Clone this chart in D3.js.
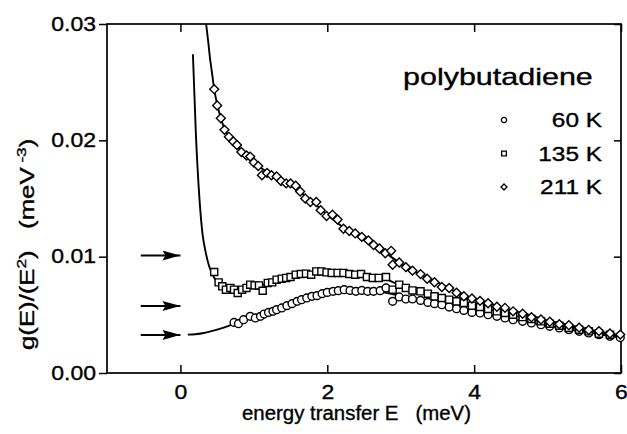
<!DOCTYPE html>
<html>
<head>
<meta charset="utf-8">
<script src="https://cdn.jsdelivr.net/npm/d3@7"></script>
<style>
body { margin: 0; background: #fff; }
text { font-family: "Liberation Sans", Arial, Helvetica, sans-serif; fill: #000; stroke: #000; stroke-width: 0.35px; }
</style>
</head>
<body>
<svg id="chart"></svg>
<script>
// measured points, energy E (meV) and g(E)/E^2 (meV^-3)
var e60 = [0.73,0.79,0.86,0.95,1.02,1.09,1.14,1.20,1.26,1.31,1.38,1.45,1.52,1.59,1.65,1.72,1.79,1.86,1.93,2.00,2.08,2.15,2.23,2.31,2.39,2.47,2.55,2.63,2.72,2.80,2.89,2.98,3.07,3.16,3.27,3.37,3.46,3.56,3.66,3.76,3.86,3.97,4.08,4.19,4.31,4.42,4.53,4.66,4.78,4.91,5.03,5.16,5.29,5.43,5.56,5.70,5.85,5.99];
var g60 = [0.00435,0.00424,0.00458,0.00487,0.00473,0.00487,0.00507,0.00521,0.00530,0.00544,0.00559,0.00579,0.00596,0.00616,0.00630,0.00645,0.00659,0.00665,0.00682,0.00693,0.00702,0.00708,0.00716,0.00710,0.00702,0.00710,0.00702,0.00702,0.00708,0.00731,0.00616,0.00654,0.00636,0.00636,0.00624,0.00607,0.00596,0.00587,0.00567,0.00553,0.00538,0.00521,0.00516,0.00501,0.00487,0.00473,0.00458,0.00444,0.00430,0.00415,0.00401,0.00387,0.00372,0.00358,0.00344,0.00329,0.00315,0.00305];

var e135 = [0.46,0.52,0.57,0.62,0.68,0.73,0.78,0.84,0.90,0.95,1.01,1.07,1.12,1.19,1.25,1.31,1.38,1.44,1.50,1.57,1.64,1.71,1.78,1.85,1.92,1.99,2.06,2.14,2.22,2.30,2.38,2.46,2.54,2.62,2.70,2.80,2.89,2.98,3.07,3.16,3.27,3.37,3.46,3.56,3.66,3.76,3.86,3.97,4.08,4.19,4.31,4.42,4.53,4.66,4.78,4.91,5.03,5.16,5.29,5.43,5.56,5.70,5.85];
var g135 = [0.00868,0.00779,0.00745,0.00716,0.00731,0.00716,0.00688,0.00716,0.00731,0.00759,0.00753,0.00753,0.00707,0.00774,0.00779,0.00802,0.00811,0.00817,0.00825,0.00845,0.00851,0.00854,0.00845,0.00873,0.00873,0.00865,0.00860,0.00860,0.00860,0.00851,0.00845,0.00851,0.00825,0.00817,0.00817,0.00825,0.00716,0.00759,0.00731,0.00710,0.00702,0.00682,0.00659,0.00645,0.00630,0.00616,0.00602,0.00579,0.00567,0.00550,0.00530,0.00516,0.00501,0.00481,0.00464,0.00444,0.00424,0.00407,0.00387,0.00372,0.00358,0.00338,0.00329];

var e211 = [0.46,0.50,0.55,0.60,0.66,0.72,0.77,0.83,0.90,0.95,1.00,1.06,1.11,1.18,1.24,1.31,1.37,1.44,1.50,1.57,1.63,1.70,1.77,1.85,1.91,1.99,2.07,2.14,2.22,2.30,2.38,2.47,2.56,2.63,2.71,2.79,2.87,2.89,2.98,3.07,3.16,3.27,3.36,3.46,3.56,3.66,3.76,3.86,3.97,4.08,4.19,4.31,4.42,4.53,4.66,4.78,4.91,5.03,5.16,5.29,5.43,5.56,5.70,5.85,5.99];
var g211 = [0.0244,0.0230,0.0219,0.0209,0.0203,0.0199,0.0196,0.0190,0.0187,0.0186,0.0181,0.0178,0.0170,0.0172,0.0170,0.0169,0.0165,0.0163,0.0163,0.0161,0.0156,0.0150,0.0147,0.0147,0.0140,0.0135,0.0136,0.0132,0.0124,0.0122,0.0120,0.0117,0.0114,0.0110,0.0107,0.0103,0.0105,0.0093,0.0095,0.0091,0.0088,0.0085,0.0081,0.0078,0.0074,0.0073,0.0069,0.0066,0.0064,0.0062,0.0060,0.0057,0.0056,0.0053,0.0051,0.0048,0.0046,0.0044,0.0042,0.0041,0.0039,0.0037,0.0036,0.0034,0.0033];

// fitted curves
var fit60E = [0.10,0.20,0.30,0.40,0.50,0.60,0.70,0.80,0.90,1.10,1.30,1.50,1.70,1.90,2.10,2.30,2.50,2.70,2.90,3.10,3.30,3.50,3.75,4.00,4.25,4.50,4.75,5.00,5.25,5.50,5.75,6.00];
var fit60G = [0.00330,0.00333,0.00342,0.00356,0.00373,0.00393,0.00415,0.00437,0.00460,0.00497,0.00537,0.00585,0.00633,0.00670,0.00697,0.00708,0.00710,0.00700,0.00676,0.00645,0.00618,0.00592,0.00558,0.00525,0.00494,0.00464,0.00435,0.00406,0.00379,0.00353,0.00329,0.00305];

var fit135E = [0.17,0.21,0.26,0.30,0.34,0.39,0.45,0.52,0.60,0.75,0.90,1.20,1.50,1.80,2.10,2.40,2.70,2.90,3.10,3.50,4.00,4.50,5.00,5.50,6.00];
var fit135G = [0.0274,0.0206,0.0149,0.0120,0.0105,0.0092,0.0083,0.0077,0.0074,0.0072,0.0073,0.0077,0.0082,0.0086,0.0087,0.0086,0.0083,0.0078,0.0073,0.0066,0.0058,0.0050,0.0043,0.0037,0.0031];

var fit211E = [0.35,0.38,0.40,0.43,0.46,0.50,0.55,0.60,0.70,0.80,0.90,1.00,1.20,1.40,1.60,1.80,2.00,2.20,2.40,2.60,2.80,3.00,3.20,3.50,3.75,4.00,4.25,4.50,4.75,5.00,5.25,5.50,5.75,6.00];
var fit211G = [0.0300,0.0284,0.0272,0.0258,0.0244,0.0231,0.0219,0.0210,0.0200,0.0193,0.0187,0.0181,0.0172,0.0165,0.0157,0.0147,0.0136,0.0126,0.0118,0.0111,0.0103,0.0094,0.0087,0.0078,0.0070,0.0064,0.0059,0.0054,0.0050,0.0045,0.0042,0.0038,0.0035,0.0032];

// arrows on the left side
var arrowLevels = [0.0101, 0.00576, 0.00327];

var xTicks = [0, 2, 4, 6];
var yTicks = [0, 0.01, 0.02, 0.03];
var seriesNames = ["60 K", "135 K", "211 K"];

var width = 627, height = 434;

var svg = d3.select("#chart")
	.attr("width", width)
	.attr("height", height);

var x = d3.scaleLinear().domain([-1, 6]).range([107, 621]);
var y = d3.scaleLinear().domain([0, 0.03]).range([373, 24]);

// wide Helvetica look: stretch text along its reading direction
function stretch(sel, k) {
	sel.each(function() {
		var w = this.getComputedTextLength();
		this.setAttribute("textLength", w * k);
		this.setAttribute("lengthAdjust", "spacingAndGlyphs");
	});
}

// axes
var gLeft = svg.append("g")
	.attr("transform", "translate(107,0)")
	.call(d3.axisLeft(y).tickValues(yTicks).tickSize(8).tickSizeOuter(0).tickPadding(3).tickFormat(d3.format(".2f")));
var gBottom = svg.append("g")
	.attr("transform", "translate(0,373)")
	.call(d3.axisBottom(x).tickValues(xTicks).tickSizeInner(-8).tickSizeOuter(0).tickPadding(12).tickFormat(d3.format("d")));
svg.append("g")
	.attr("transform", "translate(0,24)")
	.call(d3.axisTop(x).tickValues(xTicks).tickSizeInner(-8).tickSizeOuter(0).tickFormat(""));
svg.append("g")
	.attr("transform", "translate(621,0)")
	.call(d3.axisRight(y).tickValues(yTicks).tickSizeInner(-7).tickSizeOuter(0).tickFormat(""));

svg.selectAll(".domain").remove();
svg.selectAll(".tick line").attr("stroke", "#000").attr("stroke-width", 1.5);
svg.selectAll(".tick text")
	.style("font-family", "'Liberation Sans', Arial, sans-serif")
	.style("font-size", "19.5px")
	.attr("fill", "#000");
stretch(gLeft.selectAll(".tick text"), 1.18);
stretch(gBottom.selectAll(".tick text"), 1.18);

// frame
svg.append("rect")
	.attr("x", x(-1))
	.attr("y", y(0.03))
	.attr("width", x(6) - x(-1))
	.attr("height", y(0) - y(0.03))
	.attr("fill", "none")
	.attr("stroke", "#000")
	.attr("stroke-width", 1.7);

// fitted lines
var line = d3.line()
	.x(function(d) { return x(d[0]); })
	.y(function(d) { return y(d[1]); })
	.curve(d3.curveMonotoneX);

var fits = [d3.zip(fit60E, fit60G), d3.zip(fit135E, fit135G), d3.zip(fit211E, fit211G)];

svg.append("g")
	.selectAll("path")
	.data(fits)
	.enter()
	.append("path")
	.attr("d", line)
	.attr("fill", "none")
	.attr("stroke", "#000")
	.attr("stroke-width", 1.9);

// markers
var circleSym = d3.symbol().type(d3.symbolCircle).size(48);
var squareSym = d3.symbol().type(d3.symbolSquare).size(50);
var diamondSym = d3.symbol().type(d3.symbolSquare).size(40);

function drawPoints(es, gs, sym, rot) {
	svg.append("g")
		.selectAll("path")
		.data(d3.zip(es, gs))
		.enter()
		.append("path")
		.attr("d", sym)
		.attr("transform", function(d) {
			return "translate(" + x(d[0]) + "," + y(d[1]) + ") rotate(" + rot + ")";
		})
		.attr("fill", "#fff")
		.attr("stroke", "#000")
		.attr("stroke-width", 1.4);
}

drawPoints(e60, g60, circleSym, 0);
drawPoints(e135, g135, squareSym, 0);
drawPoints(e211, g211, diamondSym, 45);

// arrows
svg.append("defs")
	.append("marker")
	.attr("id", "head")
	.attr("markerUnits", "userSpaceOnUse")
	.attr("markerWidth", 18)
	.attr("markerHeight", 10)
	.attr("refX", 18)
	.attr("refY", 5)
	.attr("orient", "auto")
	.append("path")
	.attr("d", "M0,0L18,5L0,10L3,5Z")
	.attr("fill", "#000");

svg.append("g")
	.selectAll("line")
	.data(arrowLevels)
	.enter()
	.append("line")
	.attr("x1", x(-0.54))
	.attr("x2", x(0))
	.attr("y1", function(d) { return y(d); })
	.attr("y2", function(d) { return y(d); })
	.attr("stroke", "#000")
	.attr("stroke-width", 2)
	.attr("marker-end", "url(#head)");

// legend
svg.append("text")
	.attr("x", 403)
	.attr("y", 85)
	.style("font-size", "24px")
	.text("polybutadiene")
	.call(stretch, 1.27);

var legendSyms = [
	d3.symbol().type(d3.symbolCircle).size(22),
	d3.symbol().type(d3.symbolSquare).size(22),
	d3.symbol().type(d3.symbolSquare).size(18)
];
var legendRot = [0, 0, 45];

var leg = svg.append("g")
	.selectAll("g")
	.data(seriesNames)
	.enter()
	.append("g")
	.attr("transform", function(d, i) { return "translate(0," + (120 + i * 33.5) + ")"; });

leg.append("path")
	.attr("d", function(d, i) { return legendSyms[i](); })
	.attr("transform", function(d, i) { return "translate(504,0) rotate(" + legendRot[i] + ")"; })
	.attr("fill", "#fff")
	.attr("stroke", "#000")
	.attr("stroke-width", 1.3);

leg.append("text")
	.attr("x", 602)
	.attr("y", 7)
	.attr("text-anchor", "end")
	.style("font-size", "19.5px")
	.text(function(d) { return d; })
	.call(stretch, 1.25);

// axis titles
svg.append("text")
	.attr("x", 242)
	.attr("y", 420)
	.style("font-size", "20px")
	.text("energy transfer E\u00a0\u00a0\u00a0(meV)")
	.call(stretch, 1.02);

var yTitle = svg.append("text")
	.attr("transform", "translate(34,350) rotate(-90)")
	.style("font-size", "19.5px");
yTitle.append("tspan").text("g(E)/(E");
yTitle.append("tspan").attr("dy", -8).style("font-size", "13px").text("2");
yTitle.append("tspan").attr("dy", 8).text(")\u00a0\u00a0\u00a0(meV");
yTitle.append("tspan").attr("dy", -8).style("font-size", "13px").text("\u00a0-3");
yTitle.append("tspan").attr("dy", 8).text(")");
yTitle.call(stretch, 1.32);
</script>
</body>
</html>
